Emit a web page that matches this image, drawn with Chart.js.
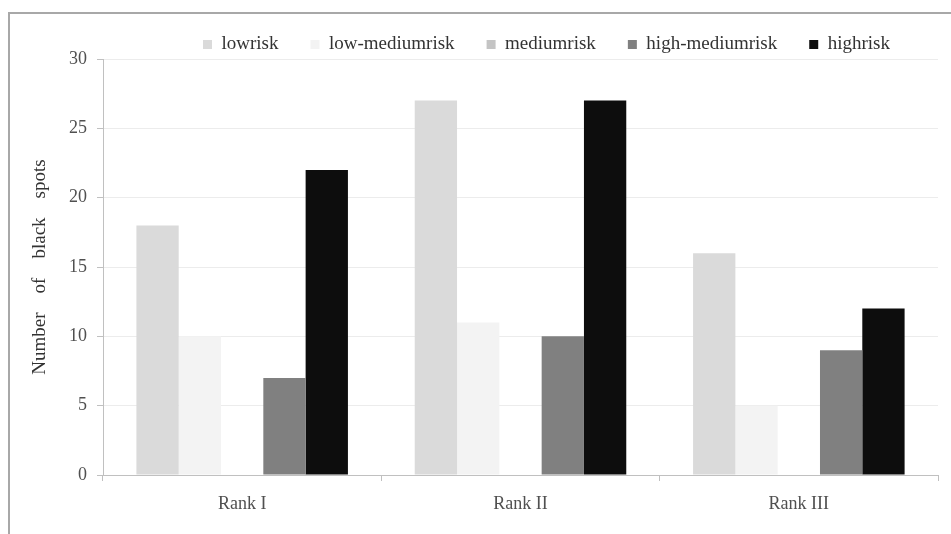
<!DOCTYPE html>
<html>
<head>
<meta charset="utf-8">
<script src="https://cdn.jsdelivr.net/npm/chart.js@4.4.1/dist/chart.umd.min.js"></script>
<style>
  html, body { margin: 0; padding: 0; background: #ffffff; }
  #wrap { position: relative; width: 951px; height: 534px; overflow: hidden; }
  #frame { position: absolute; left: 8px; top: 12px; width: 960px; height: 540px;
           border-top: 2px solid #a8a8a8; border-left: 2px solid #a8a8a8; }
  canvas { position: absolute; left: 0; top: 0; }
</style>
</head>
<body>
<div id="wrap">
  <div id="frame"></div>
  <canvas id="c" width="951" height="534"></canvas>
</div>
<script>
const categories = ["Rank I", "Rank II", "Rank III"];
const seriesNames = ["lowrisk", "low-mediumrisk", "mediumrisk", "high-mediumrisk", "highrisk"];
const lowRisk = [18, 27, 16];
const lowMediumRisk = [10, 11, 5];
const mediumRisk = [0, 0, 0];
const highMediumRisk = [7, 10, 9];
const highRisk = [22, 27, 12];
const yTicks = [0, 5, 10, 15, 20, 25, 30];
const yTitle = "Number    of    black    spots";

const colors = ["#dadada", "#f3f3f3", "#c4c4c4", "#808080", "#0d0d0d"];
const values = [lowRisk, lowMediumRisk, mediumRisk, highMediumRisk, highRisk];

const serif = "'Liberation Serif', 'Times New Roman', serif";

const legendFix = {
  id: 'legendFix',
  beforeInit(chart) {
    const lg = chart.legend;
    if (lg) {
      const orig = lg.fit;
      lg.fit = function () { orig.call(this); this.height = 59; };
    }
  },
  afterLayout(chart) {
    const lg = chart.legend;
    if (lg) { lg.left += 26; lg.right += 26; lg.top += 3; lg.bottom += 3; }
  }
};

new Chart(document.getElementById('c'), {
  type: 'bar',
  data: {
    labels: categories,
    datasets: seriesNames.map((n, i) => ({
      label: n,
      data: values[i],
      backgroundColor: colors[i],
      borderColor: colors[i],
      borderWidth: 0,
      barPercentage: 1.0,
      categoryPercentage: 0.76
    }))
  },
  options: {
    responsive: false,
    animation: false,
    devicePixelRatio: 1,
    layout: { padding: { left: 0, right: 13, top: 0, bottom: 0 } },
    plugins: {
      tooltip: { enabled: false },
      legend: {
        position: 'top',
        fullSize: false,
        labels: {
          font: { family: serif, size: 19 },
          color: '#333333',
          boxWidth: 9,
          boxHeight: 9,
          padding: 32
        }
      }
    },
    scales: {
      x: {
        offset: true,
        afterFit(s) { s.height = 59; },
        grid: { offset: true, drawOnChartArea: false, drawTicks: true, tickLength: 6, tickColor: '#c0c0c0' },
        border: { color: '#c0c0c0', width: 1 },
        ticks: { font: { family: serif, size: 18 }, color: '#505050', padding: 12 }
      },
      y: {
        min: 0, max: 30,
        afterFit(s) { s.width = 103; },
        afterBuildTicks(s) { s.ticks = yTicks.map(v => ({ value: v })); },
        grid: { color: '#ececec', tickColor: '#c0c0c0', tickLength: 6 },
        border: { color: '#c0c0c0', width: 1 },
        ticks: { font: { family: serif, size: 18 }, color: '#505050', padding: 10 },
        title: {
          display: true,
          text: yTitle,
          font: { family: serif, size: 19 },
          color: '#333333',
          padding: { top: 29, bottom: 0 }
        }
      }
    }
  },
  plugins: [legendFix]
});
</script>
</body>
</html>
